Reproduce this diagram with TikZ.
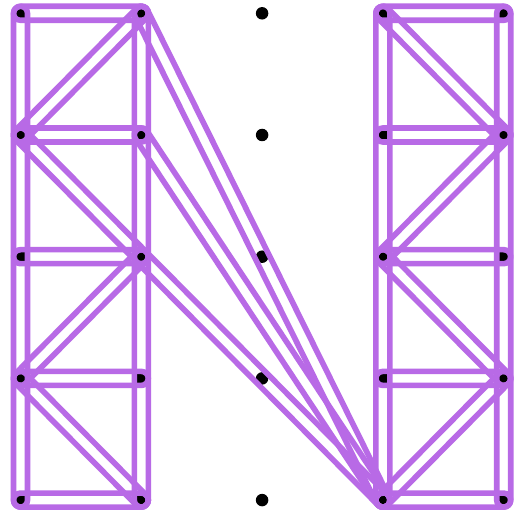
\documentclass[tikz,border=0pt]{standalone}
\usetikzlibrary{calc}
\definecolor{lila}{RGB}{184,106,230}
\tikzset{
  dot/.style={circle, fill=black, inner sep=0pt, minimum size=12.5pt},
  tubeline/.style={draw=lila, line width=5.6pt, line join=round}
}
\newcommand\tube[2]{%
  \draw[tubeline] let \p1=($(#2)-(#1)$), \n1={atan2(\y1,\x1)} in
    ($(#1)+(\n1+90:7pt)$) -- ($(#2)+(\n1+90:7pt)$)
    arc[start angle=\n1+90, delta angle=-180, radius=7pt]
    -- ($(#1)+(\n1-90:7pt)$)
    arc[start angle=\n1-90, delta angle=-180, radius=7pt] -- cycle;}
\begin{document}
\begin{tikzpicture}[x=1pt,y=1pt]
\fill[white] (0,0) rectangle (524,519);
\useasboundingbox (0,0) rectangle (524,519);
\foreach \i in {0,...,4}{
  \foreach \j in {0,...,4}{
    \node[dot] (p\i\j) at ({20.5+120.8*\i},{519-13.3-121.7*\j}) {};
  }
}
% left ladder
\tube{p00}{p04}
\tube{p10}{p14}
\foreach \j in {0,...,4}{\tube{p0\j}{p1\j}}
\tube{p10}{p01}
\tube{p01}{p12}
\tube{p12}{p03}
\tube{p03}{p14}
% right ladder
\tube{p30}{p34}
\tube{p40}{p44}
\foreach \j in {0,...,4}{\tube{p3\j}{p4\j}}
\tube{p30}{p41}
\tube{p41}{p32}
\tube{p32}{p43}
\tube{p43}{p34}
% middle diagonals
\tube{p10}{p34}
\tube{p11}{p34}
\tube{p12}{p34}
\end{tikzpicture}
\end{document}
